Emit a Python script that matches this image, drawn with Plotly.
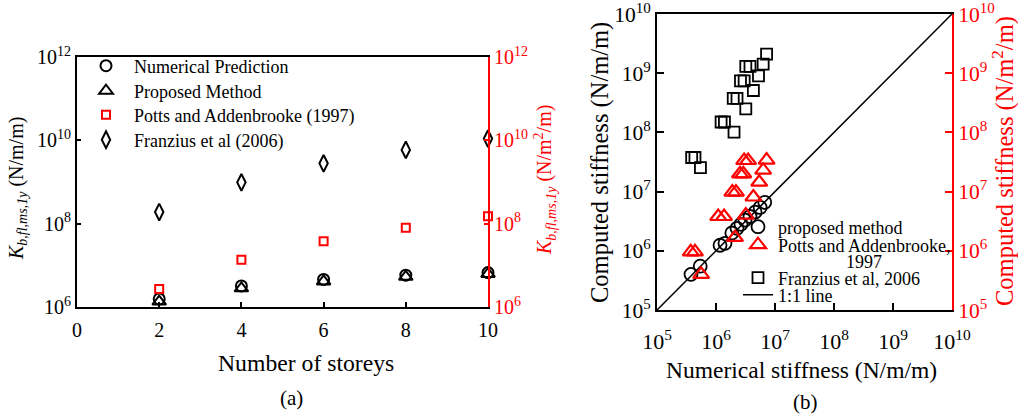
import plotly.graph_objects as go

W, H = 1018, 419
FONT = "Liberation Serif"
RED = "#ff0000"

# ---- panel (a): stiffness vs number of storeys ----
storeys = [2, 4, 6, 8, 10]
numerical_pred = [1.56e6, 3.2e6, 4.6e6, 5.8e6, 6.7e6]
proposed_pred = [1.35e6, 2.8e6, 4.1e6, 5.3e6, 6.2e6]
potts_pred = [2.7e6, 1.37e7, 3.8e7, 8.0e7, 1.5e8]
franzius_pred = [1.9e8, 9.8e8, 2.8e9, 5.9e9, 1.1e10]

# ---- panel (b): computed vs numerical stiffness ----
proposed_num = [3.77e5, 5.4e5, 1.17e6, 1.42e6, 1.86e6, 2.27e6, 2.65e6, 3.1e6, 3.77e6, 4.6e6, 5.6e6, 6.7e6]
proposed_comp = [4.0e5, 5.5e5, 1.24e6, 1.34e6, 2.0e6, 2.4e6, 2.8e6, 3.3e6, 3.8e6, 4.5e6, 5.4e6, 6.6e6]

potts_num = [3.73e5, 4.4e5, 5.6e5, 1.09e6, 1.37e6, 1.89e6, 2.18e6, 2.55e6, 2.9e6, 3.0e6, 3.5e6,
             3.2e6, 2.1e6, 4.3e6, 5.4e6, 6.3e6, 7.2e6]
potts_comp = [9.6e5, 9.6e5, 4.0e5, 3.8e6, 3.8e6, 9.8e6, 9.8e6, 2.0e7, 2.0e7, 3.35e7, 3.35e7,
              4.0e6, 1.68e6, 8.1e6, 1.44e7, 2.3e7, 3.4e7]

franzius_num = [3.87e5, 4.4e5, 5.45e5, 1.22e6, 1.39e6, 2.02e6, 1.96e6, 2.27e6, 3.2e6, 2.6e6, 3.0e6,
                4.3e6, 3.2e6, 3.77e6, 5.25e6, 6.3e6, 7.2e6]
franzius_comp = [3.77e7, 3.77e7, 2.55e7, 1.5e8, 1.5e8, 1.01e8, 3.75e8, 3.75e8, 2.5e8, 7.4e8, 7.4e8,
                 5.1e8, 1.3e9, 1.3e9, 9.0e8, 1.42e9, 2.1e9]

one_to_one = [1e5, 1e10]

a_ticks = [1e6, 1e8, 1e10, 1e12]
b_ticks = [1e5, 1e6, 1e7, 1e8, 1e9, 1e10]


def pow_label(v):
    e = len(str(int(v))) - 1
    return f"10<sup>{e}</sup>"


def px(x):
    return x / W


def py(y):
    return 1 - y / H


fig = go.Figure()

# panel (a) markers
fig.add_trace(go.Scatter(x=storeys, y=numerical_pred, mode="markers", name="Numerical Prediction",
                         marker=dict(symbol="circle-open", size=11, color="black", line=dict(width=2)),
                         xaxis="x", yaxis="y", cliponaxis=False, legend="legend"))
fig.add_trace(go.Scatter(x=storeys, y=proposed_pred, mode="markers", name="Proposed Method",
                         marker=dict(symbol="triangle-up-open", size=12, color="black", line=dict(width=2)),
                         xaxis="x", yaxis="y", cliponaxis=False, legend="legend2"))
fig.add_trace(go.Scatter(x=storeys, y=potts_pred, mode="markers", name="Potts and Addenbrooke (1997)",
                         marker=dict(symbol="square-open", size=8, color=RED, line=dict(width=2)),
                         xaxis="x", yaxis="y3", cliponaxis=False, legend="legend3"))
fig.add_trace(go.Scatter(x=storeys, y=franzius_pred, mode="markers", name="Franzius et al (2006)",
                         marker=dict(symbol="diamond-tall-open", size=12, color="black", line=dict(width=2)),
                         xaxis="x", yaxis="y", cliponaxis=False, legend="legend4"))

# panel (b)
fig.add_trace(go.Scatter(x=one_to_one, y=one_to_one, mode="lines", name="1:1 line",
                         line=dict(color="black", width=1.5),
                         xaxis="x2", yaxis="y2", legend="legend8"))
fig.add_trace(go.Scatter(x=franzius_num, y=franzius_comp, mode="markers", name="Franzius et al, 2006",
                         marker=dict(symbol="square-open", size=11, color="black", line=dict(width=1.8)),
                         xaxis="x2", yaxis="y2", legend="legend7"))
fig.add_trace(go.Scatter(x=potts_num, y=potts_comp, mode="markers",
                         name="Potts and Addenbrooke,",
                         marker=dict(symbol="triangle-up-open", size=14, color=RED, line=dict(width=2.2)),
                         xaxis="x2", yaxis="y4", legend="legend6"))
fig.add_trace(go.Scatter(x=proposed_num, y=proposed_comp, mode="markers", name="proposed method",
                         marker=dict(symbol="circle-open", size=13, color="black", line=dict(width=1.8)),
                         xaxis="x2", yaxis="y2", legend="legend5"))


def axis(color="black", size=20, **kw):
    d = dict(showgrid=False, zeroline=False, showline=True, ticks="inside", automargin=False,
             linecolor=color, linewidth=2, tickcolor=color, tickwidth=1.5,
             ticklabeloverflow="allow",
             tickfont=dict(family=FONT, size=size, color=color))
    d.update(kw)
    return d


layout = dict(
    template="none",
    width=W, height=H, margin=dict(l=0, r=0, t=0, b=0, pad=0, autoexpand=False),
    paper_bgcolor="white", plot_bgcolor="white", showlegend=True,
    font=dict(family=FONT, color="black"),
    xaxis=axis(domain=[px(77), px(488)], range=[0, 10], tickvals=[0, 2, 4, 6, 8, 10],
               mirror=True, ticklen=5, anchor="y", ticklabelstandoff=4),
    yaxis=axis(domain=[py(307), py(57)], type="log", range=[6, 12], tickvals=a_ticks,
               ticktext=[pow_label(v) for v in a_ticks], ticklen=4, anchor="x"),
    yaxis3=axis(color=RED, overlaying="y", side="right", type="log", range=[6, 12],
                tickvals=a_ticks, ticktext=[pow_label(v) for v in a_ticks], ticklen=4, anchor="x"),
    xaxis2=axis(size=22, domain=[px(657), px(952)], type="log", range=[5, 10], tickvals=b_ticks,
                ticktext=[pow_label(v) for v in b_ticks], mirror=True, ticklen=7, anchor="y2",
                ticklabelstandoff=11),
    yaxis2=axis(size=21.5, domain=[py(310), py(14)], type="log", range=[5, 10], tickvals=b_ticks,
                ticktext=[pow_label(v) for v in b_ticks], ticklen=7, anchor="x2"),
    yaxis4=axis(color=RED, size=21.5, overlaying="y2", side="right", type="log", range=[5, 10],
                tickvals=b_ticks, ticktext=[pow_label(v) for v in b_ticks], ticklen=7, anchor="x2"),
)


# one legend box per entry so each row sits where it should
def legend_box(x, y, size, itemwidth=30):
    return dict(x=px(x), y=py(y), xanchor="left", yanchor="middle", xref="paper", yref="paper",
                bgcolor="rgba(0,0,0,0)", borderwidth=0, itemwidth=itemwidth, valign="middle",
                font=dict(family=FONT, size=size, color="black"), tracegroupgap=0, visible=True)


layout["legend"] = legend_box(78, 66, 18, 46)
layout["legend2"] = legend_box(78, 91, 18, 46)
layout["legend3"] = legend_box(78, 115, 18, 46)
layout["legend4"] = legend_box(78, 140, 18, 46)
layout["legend5"] = legend_box(738, 227, 18)
layout["legend6"] = legend_box(738, 245, 18)
layout["legend7"] = legend_box(738, 278, 18)
layout["legend8"] = legend_box(738, 295, 18)

fig.update_layout(**layout)

ann = [
    dict(text="Number of storeys", x=px(306), y=py(363), size=23.7),
    dict(text="(a)", x=px(291), y=py(398), size=21),
    dict(text="Numerical stiffness (N/m/m)", x=px(801), y=py(370), size=23.5),
    dict(text="(b)", x=px(805), y=py(402), size=21),
    # second line of the Potts and Addenbrooke legend entry
    dict(text="1997", x=px(864), y=py(262), size=18),
    dict(text="<i>K</i><sub><i>b,fl,ms,1y</i></sub> (N/m/m)", x=px(18), y=py(189), size=20, angle=-90),
    dict(text="<i>K</i><sub><i>b,fl,ms,1y</i></sub> (N/m<sup>2</sup>/m)", x=px(545), y=py(180),
         size=20, angle=-90, color=RED),
    dict(text="Computed stiffness (N/m/m)", x=px(600), y=py(163), size=24.5, angle=-90),
    dict(text="Computed stiffness (N/m<sup>2</sup>/m)", x=px(1003), y=py(161), size=24.5,
         angle=-90, color=RED),
]
for a in ann:
    fig.add_annotation(text=a["text"], x=a["x"], y=a["y"], xref="paper", yref="paper",
                       xanchor="center", yanchor="middle", showarrow=False,
                       textangle=a.get("angle", 0),
                       font=dict(family=FONT, size=a["size"], color=a.get("color", "black")))

fig.write_html("out.html")
